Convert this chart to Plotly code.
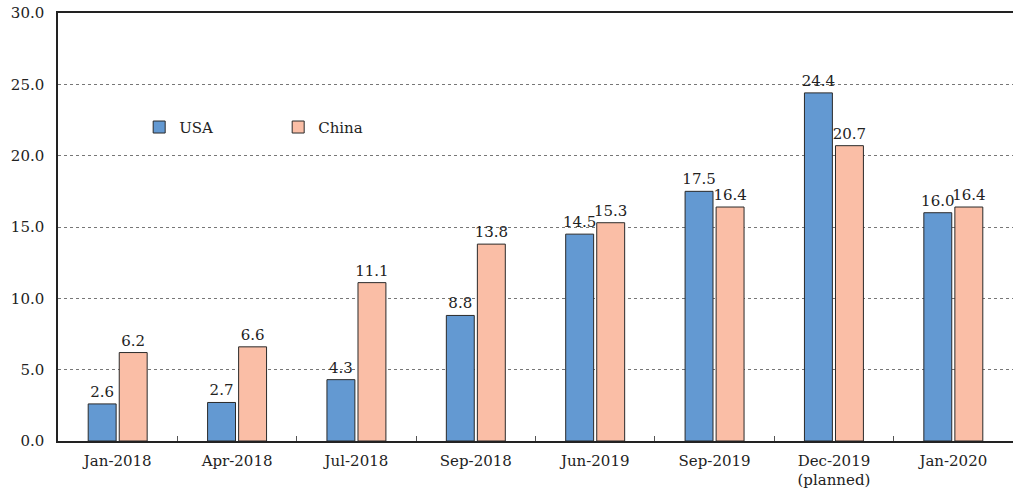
import plotly.graph_objects as go

periods = ["Jan-2018", "Apr-2018", "Jul-2018", "Sep-2018", "Jun-2019",
           "Sep-2019", "Dec-2019<br>(planned)", "Jan-2020"]
usa = [2.6, 2.7, 4.3, 8.8, 14.5, 17.5, 24.4, 16.0]
china = [6.2, 6.6, 11.1, 13.8, 15.3, 16.4, 20.7, 16.4]
y_ticks = [0, 5, 10, 15, 20, 25, 30]

FONT = "DejaVu Serif"
TXT = "#222222"
FS = 15

fig = go.Figure()
fig.add_trace(go.Bar(
    name="USA", x=periods, y=usa,
    marker=dict(color="#6399D2", line=dict(color="#2a2a2a", width=1)),
    text=[f"{v:.1f}" for v in usa], textposition="outside",
    constraintext="none",
    textfont=dict(family=FONT, size=FS, color=TXT), cliponaxis=False,
))
fig.add_trace(go.Bar(
    name="China", x=periods, y=china,
    marker=dict(color="#FABEA6", line=dict(color="#2a2a2a", width=1)),
    text=[f"{v:.1f}" for v in china], textposition="outside",
    constraintext="none",
    textfont=dict(family=FONT, size=FS, color=TXT), cliponaxis=False,
))

fig.update_layout(
    width=1014, height=489,
    margin=dict(l=58, r=1, t=13, b=48),
    paper_bgcolor="white", plot_bgcolor="white",
    barmode="group", bargap=0.48, bargroupgap=0.1,
    font=dict(family=FONT, size=FS, color=TXT),
    legend=dict(
        orientation="h", x=0.085, y=0.733, xanchor="left", yanchor="middle",
        entrywidth=94, font=dict(family=FONT, size=FS, color=TXT),
        bgcolor="rgba(0,0,0,0)", itemclick=False,
    ),
    xaxis=dict(
        showline=True, linecolor="#222222", linewidth=1.5, mirror=True,
        ticks="inside", ticklen=5, tickcolor="#555555", tickson="boundaries",
        showgrid=False, ticklabelstandoff=5,
        tickfont=dict(family=FONT, size=FS, color=TXT),
    ),
    yaxis=dict(
        range=[0, 30], tickvals=y_ticks, tickformat=".1f",
        showline=True, linecolor="#222222", linewidth=1.5,
        showgrid=True, gridcolor="#777777", griddash="dot", gridwidth=1,
        zeroline=False, ticks="", ticklabelstandoff=9,
        tickfont=dict(family=FONT, size=FS, color=TXT),
    ),
)

fig.write_html("out.html")
